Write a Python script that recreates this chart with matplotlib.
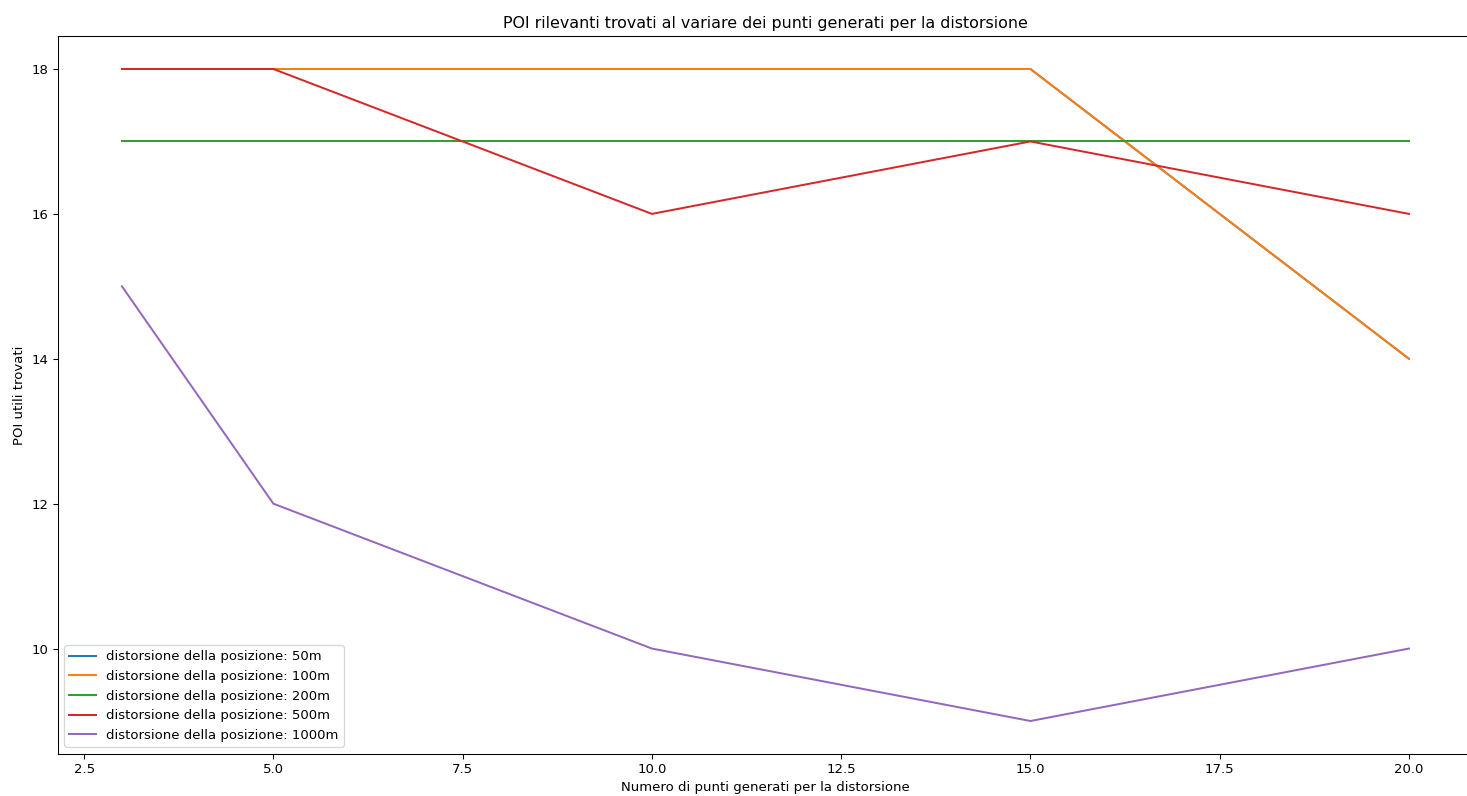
import matplotlib
matplotlib.use("Agg")
import matplotlib.pyplot as plt

x_points = [3, 5, 10, 15, 20]
series_labels = [
    "distorsione della posizione: 50m",
    "distorsione della posizione: 100m",
    "distorsione della posizione: 200m",
    "distorsione della posizione: 500m",
    "distorsione della posizione: 1000m",
]
poi_50 = [18, 18, 18, 18, 14]
poi_100 = [18, 18, 18, 18, 14]
poi_200 = [17, 17, 17, 17, 17]
poi_500 = [18, 18, 16, 17, 16]
poi_1000 = [15, 12, 10, 9, 10]

W, H = 1467, 796
DPI = 95
fig = plt.figure(figsize=(W / DPI, H / DPI), dpi=DPI)
left, right, top, bottom = 57.6, 1473.3, 36.4, 753.6
ax = fig.add_axes([left / W, (H - bottom) / H, (right - left) / W, (bottom - top) / H])

for ys, lab in zip([poi_50, poi_100, poi_200, poi_500, poi_1000], series_labels):
    ax.plot(x_points, ys, label=lab)

ax.set_title("POI rilevanti trovati al variare dei punti generati per la distorsione")
ax.set_xlabel("Numero di punti generati per la distorsione")
ax.set_ylabel("POI utili trovati")
ax.legend(loc="lower left")

fig.savefig("out.png", dpi=DPI)
